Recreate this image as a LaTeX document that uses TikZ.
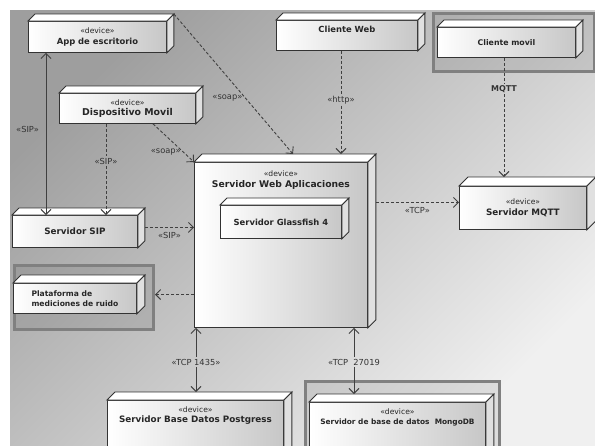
\documentclass[tikz,border=0pt]{standalone}
\usepackage{fontspec}
\setmainfont{DejaVu Sans}
\setsansfont{DejaVu Sans}
\usetikzlibrary{arrows.meta,positioning,calc}

\newcommand{\stereo}{{\mdseries\fontsize{7.6}{9}\selectfont «device»}}

\tikzset{
  box/.style={draw=black!80, line width=0.9pt, left color=white, right color=black!22, anchor=north west, align=center, inner sep=2pt, text=black!85, font=\bfseries\fontsize{8.8}{10.5}\selectfont},
  topface/.style={draw=black!80, line width=0.9pt, fill=white},
  sideface/.style={draw=black!80, line width=0.9pt, fill=black!12},
  frame/.style={draw=black!50, line width=3pt, fill=black, fill opacity=0.08, draw opacity=1, anchor=north west, inner sep=0pt},
  lab/.style={font=\fontsize{8.3}{9}\selectfont, text=black!80, inner sep=1.5pt},
  link/.style={draw=black!75, line width=0.9pt, dash pattern=on 3pt off 2pt, -{Straight Barb[length=5pt,width=10pt]}},
  solid link/.style={draw=black!75, line width=0.9pt},
  barb start/.style={{Straight Barb[length=5pt,width=10pt]}-},
  barb end/.style={-{Straight Barb[length=5pt,width=10pt]}},
  both/.style={draw=black!75, line width=0.9pt, {Straight Barb[length=5pt,width=10pt]}-{Straight Barb[length=5pt,width=10pt]}}
}

\begin{document}
\begin{tikzpicture}[x=1pt, y=-1pt]
\useasboundingbox (0,0) rectangle (595,445);
\clip (0,0) rectangle (595,445);
% background
\fill[white] (0,0) rectangle (595,445);
\shade[top color=black!38, bottom color=black!6, shading angle=45] (10,10) rectangle (595,445);
% frames
\node[frame, minimum width=161, minimum height=58] (cmframe) at (432,12) {};
\node[frame, minimum width=139, minimum height=64] (platframe) at (13,264) {};
\node[frame, minimum width=194, minimum height=80] (mgframe) at (304,380) {};
% boxes
\node[box, minimum width=138, minimum height=31, font=\bfseries\fontsize{8.4}{10.5}\selectfont] (app) at (28,21) {\stereo\\App de escritorio};
\node[box, minimum width=141, minimum height=30, font=\bfseries\fontsize{8.4}{10.5}\selectfont] (cweb) at (276,20) {Cliente Web\\[2pt]\mbox{}};
\node[box, minimum width=138, minimum height=30, font=\bfseries\fontsize{7.8}{10}\selectfont] (cmovil) at (437,27) {Cliente movil};
\node[box, minimum width=136, minimum height=30, font=\bfseries\fontsize{9.4}{10.5}\selectfont] (dmovil) at (59,93) {\stereo\\Dispositivo Movil};
\node[box, minimum width=173, minimum height=165,
  label={[anchor=north, align=center, yshift=-5pt, text=black!85, font=\bfseries\fontsize{9.2}{11}\selectfont]north:\stereo\\Servidor Web Aplicaciones}] (srv) at (194,162) {};
\node[box, minimum width=125, minimum height=32] (sip) at (12,215) {Servidor SIP};
\node[box, minimum width=127, minimum height=43] (mqtt) at (459,186) {\stereo\\Servidor MQTT};
\node[box, minimum width=123, minimum height=30, align=left, font=\bfseries\fontsize{7.6}{10}\selectfont] (plat) at (13,283) {Plataforma de\\mediciones de ruido};
\node[box, minimum width=176, minimum height=60,
  label={[anchor=north, align=center, yshift=-3pt, text=black!85, font=\bfseries\fontsize{8.8}{10.5}\selectfont]north:\stereo\\Servidor Base Datos Postgress}] (pg) at (107,400) {};
\node[box, minimum width=176, minimum height=60,
  label={[anchor=north, align=center, yshift=-3pt, text=black!85, font=\bfseries\fontsize{7.4}{10.5}\selectfont]north:\stereo\\Servidor de base de datos\ \ MongoDB}] (mongo) at (309,402) {};
% 3d faces
\foreach \n/\d in {app/7, cweb/7, cmovil/7, dmovil/7, srv/8, sip/7, mqtt/9, plat/8, pg/8, mongo/8} {
  \draw[topface] (\n.north west) -- ++(\d,-\d) -- ($(\n.north east)+(\d,-\d)$) -- (\n.north east) -- cycle;
  \draw[sideface] (\n.north east) -- ++(\d,-\d) -- ($(\n.south east)+(\d,-\d)$) -- (\n.south east) -- cycle;
}
\node[box, minimum width=121, minimum height=33, font=\bfseries\fontsize{8.4}{10.5}\selectfont] (glass) at (220,205) {Servidor Glassfish 4};
\draw[topface] (glass.north west) -- ++(7,-7) -- ($(glass.north east)+(7,-7)$) -- (glass.north east) -- cycle;
\draw[sideface] (glass.north east) -- ++(7,-7) -- ($(glass.south east)+(7,-7)$) -- (glass.south east) -- cycle;
\coordinate (srvback) at ($(srv.north west)+(8,-8)$);
\coordinate (srvside) at ($(srv.east)+(8,0)$);
% labels on split links
\node[lab] (siplab) at (106,161) {«SIP»};
\node[lab] (httplab) at (341,100) {«http»};
\node[lab, font=\bfseries\fontsize{8}{9}\selectfont] (mqttlab) at (504,89) {MQTT};
\node[lab] (pglab) at (196,362) {«TCP 1435»};
\node[lab] (mglab) at (354,362) {«TCP\ \ 27019};
% links
\draw[both] ([xshift=18pt]app.south west) -- ([xshift=34pt]sip.north west) node[lab, pos=0.47, left=5pt] {«SIP»};
\draw[link] ($(app.north east)+(7,-7)$) -- ($(srv.north west)+(99,-8)$) node[lab, pos=0.6, left=1pt] {«soap»};
\draw[link] ($(dmovil.south west)+(94,0)$) -- (srv.north west) node[lab, pos=0.75, left=1pt] {«soap»};
\draw[link, -] (siplab.north |- dmovil.south) -- (siplab.north);
\draw[link] (siplab.south) -- (siplab.south |- sip.north);
\draw[link, -] (httplab.north |- cweb.south) -- (httplab.north);
\draw[link] (httplab.south) -- (httplab.south |- srvback);
\draw[link, -] (mqttlab.north |- cmovil.south) -- (mqttlab.north);
\draw[link] (mqttlab.south) -- ($(mqttlab.south |- mqtt.north)+(0,-9)$);
\draw[link] ($(sip.east)+(7,-4)$) -- ($(sip.east -| srv.west)+(0,-4)$) node[lab, midway, below=3pt] {«SIP»};
\draw[link] ([yshift=5.5pt]mqtt.west -| srvside) -- ([yshift=5.5pt]mqtt.west) node[lab, midway, below=3pt] {«TCP»};
\draw[link] ([yshift=3pt]platframe.east -| srv.west) -- ([yshift=3pt]platframe.east);
\draw[solid link, barb start] (pglab.north |- srv.south) -- (pglab.north);
\draw[solid link, barb end] (pglab.south) -- ($(pglab.south |- pg.north)+(0,-8)$);
\draw[solid link, barb start] (mglab.north |- srv.south) -- (mglab.north);
\draw[solid link, barb end] (mglab.south) -- ($(mglab.south |- mongo.north)+(0,-8)$);
\end{tikzpicture}
\end{document}
